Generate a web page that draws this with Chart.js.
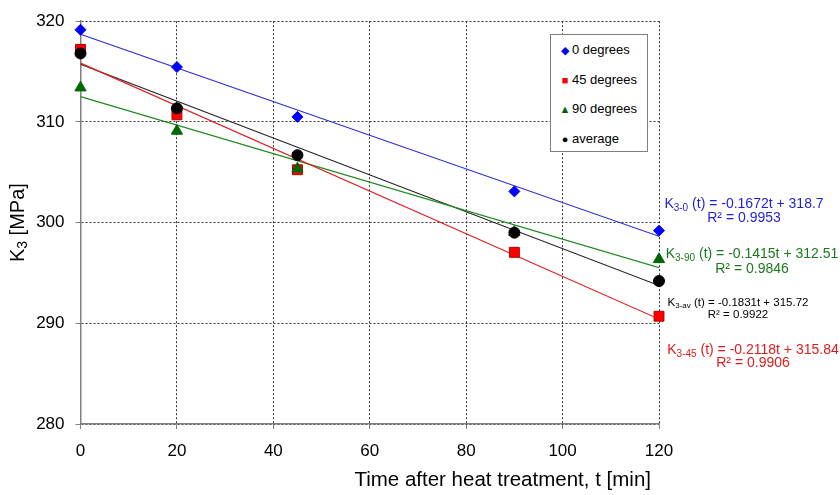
<!DOCTYPE html>
<html>
<head>
<meta charset="utf-8">
<script src="https://cdn.jsdelivr.net/npm/chart.js@4.4.1/dist/chart.umd.min.js"></script>
<style>
  html, body { margin: 0; padding: 0; background: #fff; }
  #wrap { position: relative; width: 840px; height: 495px; }
  #legend {
    position: absolute; left: 550px; top: 34px; width: 98px; height: 118px;
    box-sizing: border-box; border: 1px solid #7f7f7f; background: #fff;
    font: 13px 'Liberation Sans', Arial, sans-serif; color: #000;
  }
  #legend .row { position: absolute; left: 8px; height: 16px; line-height: 16px; white-space: nowrap; }
  #legend .sym { display: inline-block; width: 12px; text-align: center; font-size: 11px; margin-right: 1px; }
</style>
</head>
<body>
<div id="wrap">
  <canvas id="chart" width="840" height="495"></canvas>
  <div id="legend"></div>
</div>
<script>
const times = [0, 20, 45, 90, 120];
const k0 = [319.15, 315.45, 310.5, 303.1, 299.2];
const k45 = [317.2, 310.7, 305.25, 297.05, 290.7];
const k90 = [313.4, 309.1, 305.35, 299.05, 296.35];
const kAvg = [316.8, 311.35, 306.7, 299.0, 294.2];

// trend line end values at t = 0 and t = 120 (from the fitted equations)
const trendT = [0, 120];
const trend0 = [318.7, 298.64];
const trend45 = [315.84, 290.42];
const trend90 = [312.51, 295.53];
const trendAvg = [315.72, 293.75];

const xTicks = [0, 20, 40, 60, 80, 100, 120];
const yTicks = [280, 290, 300, 310, 320];

const seriesLabels = ['0 degrees', '45 degrees', '90 degrees', 'average'];
const seriesColors = ['#0000ff', '#ff0000', '#006600', '#000000'];
const lineColors = ['#2b2bd9', '#e02020', '#218a21', '#202020'];

const xTitle = 'Time after heat treatment, t [min]';

const equations = [
  { sub: '3-0', rest: ' (t) = -0.1672t + 318.7', r2: 'R² = 0.9953', color: '#1f1fd6', size: 14, dx: 85, y1: 204, y2: 218 },
  { sub: '3-90', rest: ' (t) = -0.1415t + 312.51', r2: 'R² = 0.9846', color: '#1a7a1a', size: 14, dx: 93, y1: 254, y2: 269 },
  { sub: '3-av', rest: ' (t) = -0.1831t + 315.72', r2: 'R² = 0.9922', color: '#000000', size: 11.5, dx: 79, y1: 303, y2: 315 },
  { sub: '3-45', rest: ' (t) = -0.2118t + 315.84', r2: 'R² = 0.9906', color: '#e01b1b', size: 14, dx: 94, y1: 350, y2: 363 },
];

const FONT = "'Liberation Sans', Arial, sans-serif";

function pts(xs, ys) {
  return xs.map((x, i) => ({ x: x, y: ys[i] }));
}

const pointStyles = ['rectRot', 'rect', 'triangle', 'circle'];
const pointRadii = [5.5, 7, 6.5, 5.5];
const drawOrder = [4, 3, 2, 1]; // lower = drawn on top
const values = [k0, k45, k90, kAvg];
const trends = [trend0, trend45, trend90, trendAvg];

const datasets = [];
values.forEach((vals, i) => {
  datasets.push({
    label: seriesLabels[i],
    data: pts(times, vals),
    pointStyle: pointStyles[i],
    pointRadius: pointRadii[i],
    pointBackgroundColor: seriesColors[i],
    pointBorderColor: i === 1 ? '#b00000' : seriesColors[i],
    pointBorderWidth: 1,
    showLine: false,
    clip: false,
    order: drawOrder[i],
  });
});
trends.forEach((vals, i) => {
  datasets.push({
    label: 'trend ' + seriesLabels[i],
    data: pts(trendT, vals),
    showLine: true,
    borderColor: lineColors[i],
    borderWidth: 1.2,
    pointRadius: 0,
    order: 10,
  });
});

function drawSubText(ctx, x, y, size, sub, rest, align) {
  const subSize = Math.round(size * 0.68);
  ctx.font = size + 'px ' + FONT;
  const wK = ctx.measureText('K').width;
  const wRest = ctx.measureText(rest).width;
  ctx.font = subSize + 'px ' + FONT;
  const wSub = ctx.measureText(sub).width;
  const total = wK + wSub + wRest;
  const left = align === 'center' ? x - total / 2 : x;
  ctx.textBaseline = 'middle';
  ctx.textAlign = 'left';
  ctx.font = size + 'px ' + FONT;
  ctx.fillText('K', left, y);
  ctx.font = subSize + 'px ' + FONT;
  ctx.fillText(sub, left + wK, y + size * 0.28);
  ctx.font = size + 'px ' + FONT;
  ctx.fillText(rest, left + wK + wSub, y);
}

const textPlugin = {
  id: 'textPlugin',
  afterDraw(chart) {
    const ctx = chart.ctx;
    const area = chart.chartArea;
    ctx.save();
    // y axis title with subscript
    ctx.translate(18, (area.top + area.bottom) / 2);
    ctx.rotate(-Math.PI / 2);
    ctx.fillStyle = '#000';
    drawSubText(ctx, 0, 0, 20, '3', ' [MPa]', 'center');
    ctx.restore();

    // x axis title, right aligned a little inside the plot edge
    ctx.save();
    ctx.fillStyle = '#000';
    ctx.font = '20.5px ' + FONT;
    ctx.textAlign = 'right';
    ctx.textBaseline = 'middle';
    ctx.fillText(xTitle, area.right - 8, area.bottom + 56);
    ctx.restore();

    ctx.save();
    equations.forEach((eq) => {
      const cx = area.right + eq.dx;
      ctx.fillStyle = eq.color;
      drawSubText(ctx, cx, eq.y1, eq.size, eq.sub, eq.rest, 'center');
      ctx.font = eq.size + 'px ' + FONT;
      ctx.textAlign = 'center';
      ctx.textBaseline = 'middle';
      ctx.fillText(eq.r2, cx, eq.y2);
    });
    ctx.restore();
  },
};

new Chart(document.getElementById('chart'), {
  type: 'scatter',
  data: { datasets: datasets },
  plugins: [textPlugin],
  options: {
    responsive: false,
    animation: false,
    layout: { padding: { left: 0, right: 181, top: 17.5, bottom: 0 } },
    plugins: { legend: { display: false }, tooltip: { enabled: false } },
    scales: {
      x: {
        type: 'linear', min: 0, max: 120,
        afterBuildTicks: (s) => { s.ticks = xTicks.map((v) => ({ value: v })); },
        afterFit: (s) => { s.height = 71; },
        ticks: { color: '#000', font: { family: FONT, size: 17 }, padding: 12 },
        grid: {
          color: '#333', lineWidth: 1,
          tickLength: 5, tickColor: '#808080', tickBorderDash: [],
        },
        border: { display: true, color: '#808080', width: 1.5, dash: [2, 2] },
      },
      y: {
        type: 'linear', min: 280, max: 320,
        afterBuildTicks: (s) => { s.ticks = yTicks.map((v) => ({ value: v })); },
        afterFit: (s) => { s.width = 80.5; },
        ticks: { color: '#000', font: { family: FONT, size: 17 }, padding: 11 },
        grid: {
          color: '#333', lineWidth: 1,
          tickLength: 5, tickColor: '#808080', tickBorderDash: [],
        },
        border: { display: true, color: '#808080', width: 1.5, dash: [2, 2] },
      },
    },
  },
});

const legendSymbols = ['◆', '■', '▲', '●'];
const legendEl = document.getElementById('legend');
legendEl.innerHTML = seriesLabels.map((label, i) => `
  <div class="row" style="top:${7 + i * 29.5}px">
    <span class="sym" style="color:${seriesColors[i]}">${legendSymbols[i]}</span>${label}
  </div>
`).join('');
</script>
</body>
</html>
